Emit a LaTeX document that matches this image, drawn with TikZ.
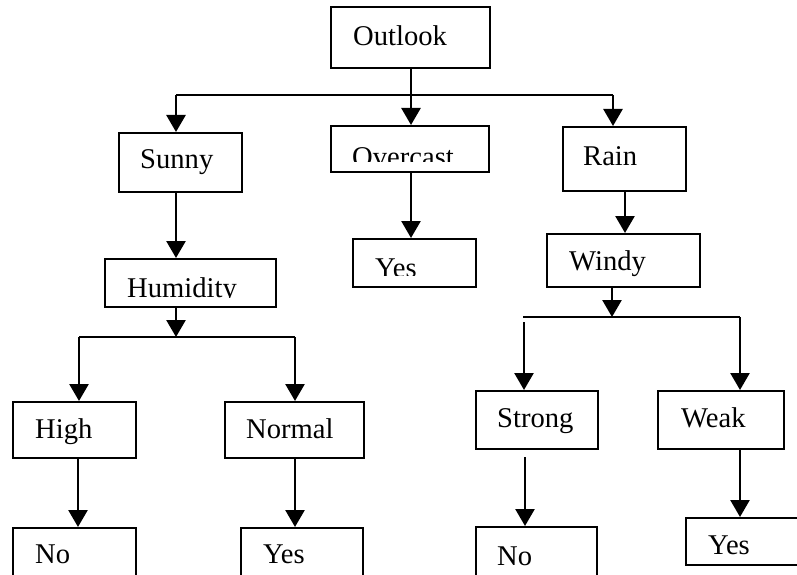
\documentclass[tikz,border=0pt]{standalone}
\usepackage{fontspec}
\setmainfont{Liberation Serif}
\usetikzlibrary{arrows.meta}
\tikzset{
  box/.style={draw=black, line width=2pt, rectangle, inner sep=0pt},
  lbl/.style={inner sep=0pt, anchor=base west, font=\fontsize{28.6}{34}\selectfont},
  arr/.style={line width=2.6pt, -{Triangle[width=19pt,length=17pt]}},
  ln/.style={line width=1.9pt}
}
\newcommand{\bx}[5]{% name, x1, y1, x2, y2
  \node[box, minimum width={(#4-#2)*1pt}, minimum height={(#5-#3)*1pt}] (#1) at ({(#2+#4)/2},{(#3+#5)/2}) {};}
\begin{document}
\begin{tikzpicture}[x=1pt,y=-1pt]
\useasboundingbox (0,0) rectangle (797,575);
\clip (0,0) rectangle (797,575);
\fill[white] (0,0) rectangle (797,575);
% boxes
\bx{outlook}{331}{7}{490}{68}
\bx{sunny}{119}{133}{242}{192}
\bx{overcast}{331}{126}{489}{172}
\bx{rain}{563}{127}{686}{191}
\bx{humidity}{105}{259}{276}{307}
\bx{yes1}{353}{239}{476}{287}
\bx{windy}{547}{234}{700}{287}
\bx{high}{13}{402}{136}{458}
\bx{normal}{225}{402}{364}{458}
\bx{strong}{476}{391}{598}{449}
\bx{weak}{658}{391}{784}{449}
\bx{no1}{13}{528}{136}{610}
\bx{yes2}{241}{528}{363}{610}
\bx{no2}{476}{527}{597}{610}
\bx{yes3}{686}{518}{810}{565}
% labels
\node[lbl] (outlook-t) at (353,46) {Outlook};
\node[lbl] (sunny-t) at (140,168) {Sunny};
\begin{scope}
  \clip (331,126) rectangle (489,161);
  \node[lbl] (overcast-t) at (352,166) {Overcast};
\end{scope}
\node[lbl] (rain-t) at (583,165) {Rain};
\begin{scope}
  \clip (105,259) rectangle (276,297.5);
  \node[lbl] (humidity-t) at (127,297.5) {Humidity};
\end{scope}
\begin{scope}
  \clip (353,239) rectangle (476,275);
  \node[lbl] (yes1-t) at (375,277.5) {Yes};
\end{scope}
\node[lbl] (windy-t) at (569,270) {Windy};
\node[lbl] (high-t) at (35,438) {High};
\node[lbl] (normal-t) at (246,438) {Normal};
\node[lbl] (strong-t) at (497,427) {Strong};
\node[lbl] (weak-t) at (681,427) {Weak};
\node[lbl] (no1-t) at (35,563) {No};
\node[lbl] (yes2-t) at (263,563) {Yes};
\node[lbl] (no2-t) at (497,565) {No};
\begin{scope}
  \clip (686,518) rectangle (797,555);
  \node[lbl] (yes3-t) at (708,554.5) {Yes};
\end{scope}
% junction coordinates
\coordinate (bl) at (176,95);
\coordinate (br) at (613,95);
\coordinate (hl) at (79,337);
\coordinate (hr) at (295,337);
\coordinate (hm) at (176,337);
\coordinate (wl) at (523,317);
\coordinate (wr) at (740,317);
\coordinate (wm) at (612,317);
\coordinate (wlv) at (524,322);
\coordinate (sx) at (525,457);
\coordinate (ox) at (411,0);
\coordinate (rx) at (625,0);
\coordinate (nx) at (78,0);
% connectors
\draw[ln] (bl) -- (br);
\draw[arr] (outlook.south -| ox) -- (overcast.north -| ox);
\draw[arr] (bl) -- (bl |- sunny.north);
\draw[arr] (br) -- (br |- rain.north);
\draw[arr] (bl |- sunny.south) -- (bl |- humidity.north);
\draw[arr] (hm |- humidity.south) -- (hm);
\draw[ln] (hl) -- (hr);
\draw[arr] (hl) -- (hl |- high.north);
\draw[arr] (hr) -- (hr |- normal.north);
\draw[arr] (nx |- high.south) -- (nx |- no1.north);
\draw[arr] (hr |- normal.south) -- (hr |- yes2.north);
\draw[arr] (overcast.south -| ox) -- (yes1.north -| ox);
\draw[arr] (rain.south -| rx) -- (windy.north -| rx);
\draw[arr] (wm |- windy.south) -- (wm);
\draw[ln] (wl) -- (wr);
\draw[arr] (wlv) -- (wlv |- strong.north);
\draw[arr] (wr) -- (wr |- weak.north);
\draw[arr] (sx) -- (sx |- no2.north);
\draw[arr] (wr |- weak.south) -- (wr |- yes3.north);
\end{tikzpicture}
\end{document}
